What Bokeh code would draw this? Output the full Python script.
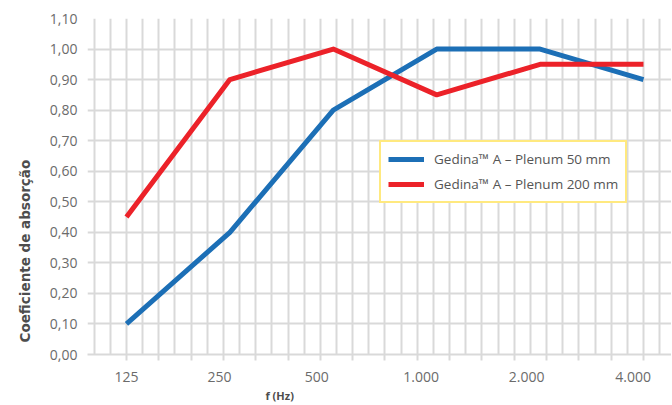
import math
from bokeh.plotting import figure
from bokeh.models import FixedTicker, Legend, LegendItem, Range1d, Title
from bokeh.embed import file_html
from bokeh.resources import INLINE

# ---- data ----
freqs = [125, 250, 500, 1000, 2000, 4000]
freq_labels = ["125", "250", "500", "1.000", "2.000", "4.000"]
plenum_50 = [0.10, 0.40, 0.80, 1.00, 1.00, 0.90]
plenum_200 = [0.45, 0.90, 1.00, 0.85, 0.95, 0.95]
y_ticks = [0.0, 0.1, 0.2, 0.3, 0.4, 0.5, 0.6, 0.7, 0.8, 0.9, 1.0, 1.1]
y_tick_labels = ["0,00", "0,10", "0,20", "0,30", "0,40", "0,50",
                 "0,60", "0,70", "0,80", "0,90", "1,00", "1,10"]
series_names = ["Gedina\u2122 A \u2013 Plenum 50 mm", "Gedina\u2122 A \u2013 Plenum 200 mm"]

# ---- styles ----
FONT = "Open Sans"
BLUE = "#1c6fb6"
RED = "#ec2229"
GRID = "#d9d9d9"
TXT = "#6b6b6b"
# small horizontal shift of the frequency labels (in octaves) as in the reference
label_shift = [0.0, -0.10, -0.16, -0.15, -0.13, -0.10]

xs = [math.log2(f / freqs[0]) for f in freqs]

p = figure(frame_width=584, frame_height=336,
           x_range=Range1d(-0.377, 5.271), y_range=Range1d(0, 1.1),
           output_backend="svg", toolbar_location=None,
           min_border_left=87, min_border_right=0,
           min_border_top=18, min_border_bottom=50)
p.outline_line_color = None
p.background_fill_color = "white"

# grids
p.xgrid.ticker = FixedTicker(ticks=[round(-0.3125 + 0.15625 * k, 5) for k in range(37)])
p.xgrid.grid_line_color = GRID
p.xgrid.grid_line_width = 2
p.ygrid.ticker = FixedTicker(ticks=y_ticks)
p.ygrid.grid_line_color = GRID
p.ygrid.grid_line_width = 2

# x axis
label_pos = [round(x + s, 4) for x, s in zip(xs, label_shift)]
p.xaxis.ticker = FixedTicker(ticks=label_pos,
                             minor_ticks=[round(0.3125 * k, 5) for k in range(17)])
p.xaxis.major_label_overrides = {pos: lab for pos, lab in zip(label_pos, freq_labels)}
p.xaxis.axis_line_color = GRID
p.xaxis.axis_line_width = 2
p.xaxis.major_tick_line_color = None
p.xaxis.major_tick_out = 0
p.xaxis.major_tick_in = 0
p.xaxis.minor_tick_line_color = GRID
p.xaxis.minor_tick_line_width = 2
p.xaxis.minor_tick_out = 6
p.xaxis.minor_tick_in = 0
p.xaxis.major_label_standoff = 11
p.xaxis.major_label_text_font = FONT
p.xaxis.major_label_text_font_size = "14px"
p.xaxis.major_label_text_color = TXT

# y axis
p.yaxis.ticker = FixedTicker(ticks=y_ticks)
p.yaxis.major_label_overrides = {t: lab for t, lab in zip(y_ticks, y_tick_labels)}
p.yaxis.axis_line_color = None
p.yaxis.major_tick_line_color = None
p.yaxis.minor_tick_line_color = None
p.yaxis.major_tick_out = 0
p.yaxis.major_tick_in = 0
p.yaxis.major_label_standoff = 10
p.yaxis.major_label_text_font = FONT
p.yaxis.major_label_text_font_size = "14px"
p.yaxis.major_label_text_color = TXT

# series
r1 = p.line(xs, plenum_50, line_width=5, line_color=BLUE, line_join="round")
r2 = p.line(xs, plenum_200, line_width=5, line_color=RED, line_join="round")

legend = Legend(items=[LegendItem(label=series_names[0], renderers=[r1]),
                       LegendItem(label=series_names[1], renderers=[r2])],
                location=(292, 151))
legend.border_line_color = "#ffd400"
legend.border_line_width = 2
legend.background_fill_color = "white"
legend.background_fill_alpha = 1.0
legend.padding = 7
legend.spacing = 5
legend.margin = 0
legend.glyph_width = 36
legend.glyph_height = 20
legend.label_height = 20
legend.label_standoff = 10
legend.label_text_font = FONT
legend.label_text_font_size = "13.5px"
legend.label_text_color = "#555555"
p.add_layout(legend)

# axis titles
ytitle = Title(text="Coeficiente de absorção", align="left", offset=12, standoff=28,
               text_font="DejaVu Sans", text_font_style="bold", text_font_size="13.5px",
               text_color="#4d4d4d")
p.add_layout(ytitle, "left")
xtitle = Title(text="f (Hz)", align="left", offset=178, standoff=2,
               text_font=FONT, text_font_style="bold", text_font_size="11px",
               text_color="#4d4d4d")
p.add_layout(xtitle, "below")

open("out.html", "w").write(file_html(p, INLINE))
